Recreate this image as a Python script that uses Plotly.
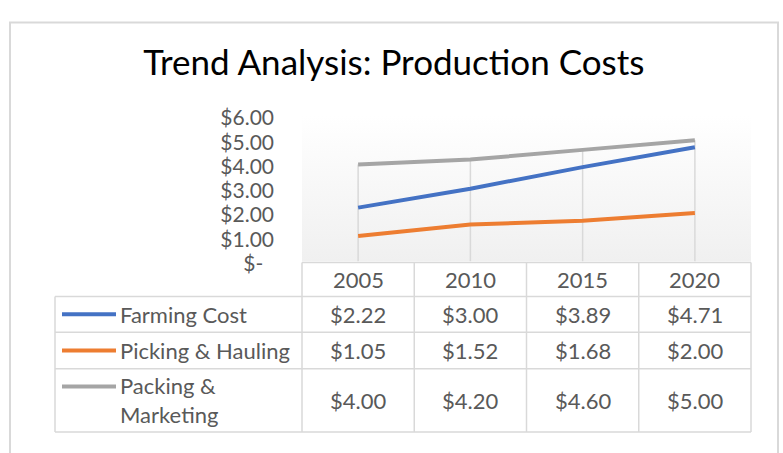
import plotly.graph_objects as go

# ---------------- data ----------------
years = [2005, 2010, 2015, 2020]
series_names = ["Farming Cost", "Picking & Hauling", "Packing & Marketing"]
legend_labels = ["Farming Cost", "Picking & Hauling", "Packing &<br>Marketing"]
farming = [2.22, 3.00, 3.89, 4.71]
picking = [1.05, 1.52, 1.68, 2.00]
packing = [4.00, 4.20, 4.60, 5.00]
y_tickvals = [0, 1, 2, 3, 4, 5, 6]
y_ticktext = ["$-\u00a0\u00a0", "$1.00", "$2.00", "$3.00", "$4.00", "$5.00", "$6.00"]
colors = ["#4472C4", "#ED7D31", "#A5A5A5"]

W, H = 783, 453
FONT = "Lato"
TXT = "#595959"
GRID = "#d9d9d9"
FS = 22

def px(x):
    return x / W

def py(y):
    return 1 - y / H

# plot area (pixels)
PL, PR, PT, PB = 302, 751, 110, 264
step = years[1] - years[0]
xmin, xmax = years[0] - step / 2, years[-1] + step / 2
ymin, ymax = 0, 6

def xpix(v):
    return PL + (v - xmin) / (xmax - xmin) * (PR - PL)

all_series = [farming, picking, packing]

fig = go.Figure()

# plot-area gradient background
fig.add_trace(go.Scatter(
    x=[xmin, xmax, xmax, xmin, xmin], y=[ymin, ymin, ymax, ymax, ymin],
    mode="lines", line=dict(width=0), fill="toself",
    fillgradient=dict(type="vertical", colorscale=[[0, "#f0f0f0"], [1, "#ffffff"]]),
    hoverinfo="skip", showlegend=False))

# drop lines from highest point down to axis
dx, dy = [], []
for i, yr in enumerate(years):
    top = max(s[i] for s in all_series)
    dx += [yr, yr, None]
    dy += [ymin, top, None]
fig.add_trace(go.Scatter(x=dx, y=dy, mode="lines", line=dict(color=GRID, width=1.5),
                         hoverinfo="skip", showlegend=False))

for name, vals, c in zip(series_names, all_series, colors):
    fig.add_trace(go.Scatter(x=years, y=vals, name=name, mode="lines",
                             line=dict(color=c, width=4), showlegend=False))

shapes = []
annotations = []

# outer chart border
shapes.append(dict(type="rect", xref="paper", yref="paper",
                   x0=px(10), x1=px(778), y0=py(H + 30), y1=py(11),
                   line=dict(color=GRID, width=2), fillcolor="rgba(0,0,0,0)"))

# ----- data table -----
row_edges = [265, 301, 339, 377.5, 444.5]   # header top, header bottom, row bottoms
legend_left = 55
col_edges = [xpix(xmin)] + [xpix((years[i] + years[i + 1]) / 2) for i in range(len(years) - 1)] + [xpix(xmax)]

def hline(y, x0, x1):
    shapes.append(dict(type="line", xref="paper", yref="paper", x0=px(x0), x1=px(x1),
                       y0=py(y), y1=py(y), line=dict(color=GRID, width=1.5)))

def vline(x, y0, y1):
    shapes.append(dict(type="line", xref="paper", yref="paper", x0=px(x), x1=px(x),
                       y0=py(y0), y1=py(y1), line=dict(color=GRID, width=1.5)))

hline(row_edges[0], col_edges[0], col_edges[-1])
for y in row_edges[1:]:
    hline(y, legend_left, col_edges[-1])
for x in col_edges:
    vline(x, row_edges[0], row_edges[-1])
vline(legend_left, row_edges[1], row_edges[-1])

# header: years
for yr in years:
    annotations.append(dict(x=yr, xref="x", y=py((row_edges[0] + row_edges[1]) / 2), yref="paper",
                            text=str(yr), showarrow=False, xanchor="center", yanchor="middle",
                            font=dict(family=FONT, size=FS, color=TXT)))

# rows
for r, (lab, vals, c) in enumerate(zip(legend_labels, all_series, colors)):
    y0, y1 = row_edges[r + 1], row_edges[r + 2]
    yc = (y0 + y1) / 2
    for yr, v in zip(years, vals):
        annotations.append(dict(x=yr, xref="x", y=py(yc), yref="paper",
                                text=f"${v:.2f}", showarrow=False, xanchor="center", yanchor="middle",
                                font=dict(family=FONT, size=FS, color=TXT)))
    single = "<br>" not in lab
    sw_y = yc if single else y0 + 19
    shapes.append(dict(type="line", xref="paper", yref="paper", x0=px(62), x1=px(116),
                       y0=py(sw_y), y1=py(sw_y), line=dict(color=c, width=4)))
    annotations.append(dict(x=px(118), xref="paper", y=py(yc), yref="paper",
                            text=lab, showarrow=False, xanchor="left", yanchor="middle", align="left",
                            font=dict(family=FONT, size=FS, color=TXT)))

fig.update_layout(
    width=W, height=H, autosize=False,
    margin=dict(l=0, r=0, t=0, b=0),
    paper_bgcolor="white", plot_bgcolor="rgba(0,0,0,0)",
    title=dict(text="Trend Analysis: Production Costs", x=0.503, xanchor="center",
               y=py(54), yanchor="middle", yref="paper",
               font=dict(family=FONT, size=35, color="#000000")),
    xaxis=dict(domain=[px(PL), px(PR)], range=[xmin, xmax], showticklabels=False,
               showgrid=False, zeroline=False, showline=False, fixedrange=True),
    yaxis=dict(domain=[py(PB), py(PT)], range=[ymin, ymax], tickvals=y_tickvals, ticktext=y_ticktext,
               showgrid=False, zeroline=False, showline=False, ticks="", fixedrange=True,
               ticklabelstandoff=27, ticklabelshift=2,
               tickfont=dict(family=FONT, size=21, color=TXT)),
    shapes=shapes, annotations=annotations, showlegend=False,
)

fig.write_html("out.html", config={"displayModeBar": False},
               post_script="document.body.style.margin='0';document.body.style.overflow='hidden';")
